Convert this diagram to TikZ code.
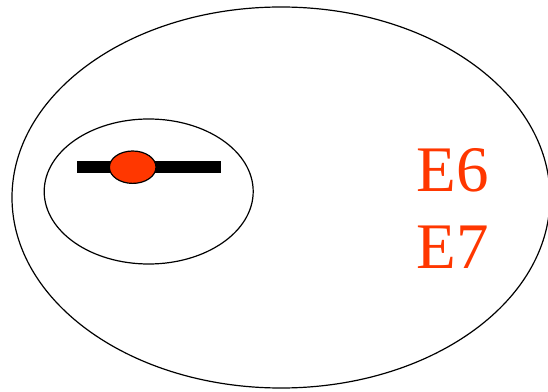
\documentclass[tikz,border=0pt]{standalone}
\usepackage{fontspec}
\setmainfont{Liberation Serif}
\usepackage{tikz}
\usetikzlibrary{positioning}
\definecolor{eRed}{RGB}{255, 55, 0}

\begin{document}
\begin{tikzpicture}[x=1pt, y=1pt, line width=1.2pt,
    elabel/.style={text=eRed, font=\fontsize{65}{76}\selectfont, inner sep=0pt, anchor=base west}]
  \useasboundingbox (0,0) rectangle (548,391);
  \begin{scope}
    \clip (0,0) rectangle (548,391);
    % outer and inner ellipses
    \draw (281,193.5) ellipse [x radius=269, y radius=190.5];
    \draw (148.7,199.5) ellipse [x radius=104.5, y radius=72.5];
  \end{scope}
  % thick bar with the red blob on it
  \fill (76.7,218) rectangle (220.7,229.5);
  \draw[fill=eRed] (132.7,223.8) ellipse [x radius=23.3, y radius=16.2];

  \node[elabel] (e6) at (416,199) {E6};
  \node[elabel] (e7) at (416,123) {E7};
\end{tikzpicture}
\end{document}
